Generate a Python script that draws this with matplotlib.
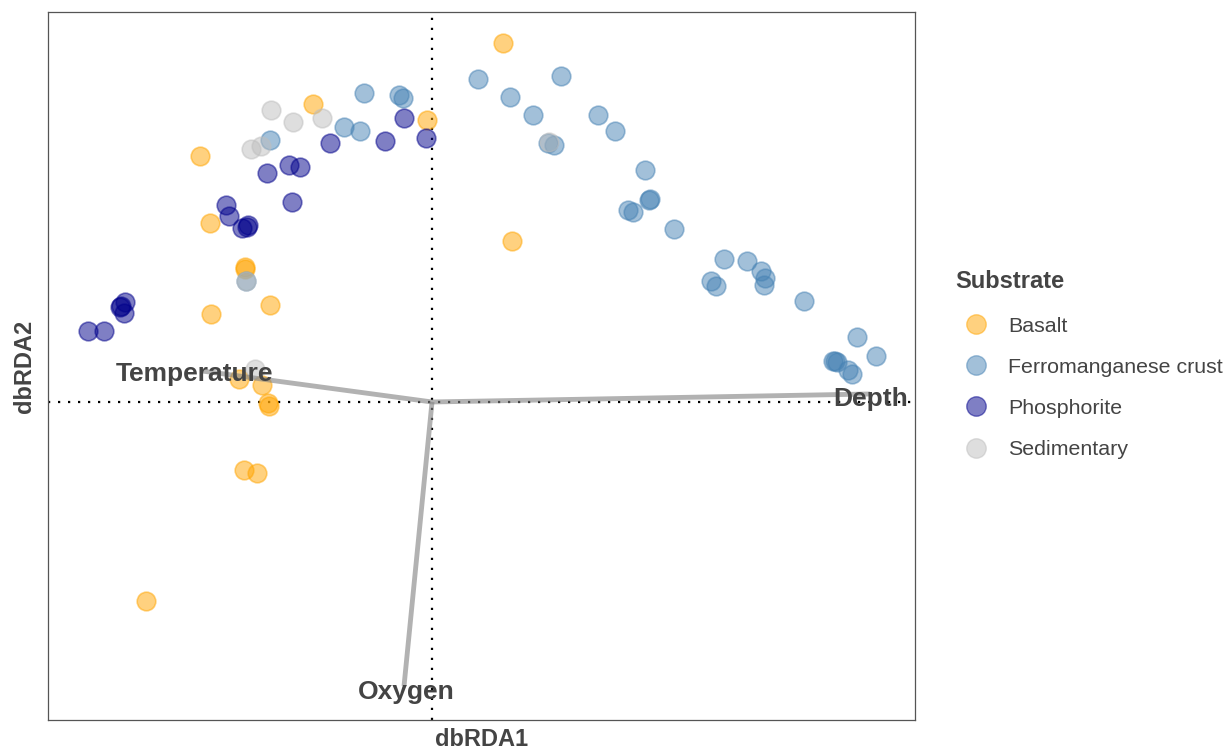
import matplotlib.pyplot as plt
from matplotlib.lines import Line2D

plt.rcParams['font.family'] = ['Liberation Sans', 'DejaVu Sans']

# site scores (dbRDA1, dbRDA2) per substrate
basalt_x = [0.71, -1.19, -0.05, -2.32, -2.22, 0.80, -1.87, -1.87, -1.62, -2.21,
            -1.93, -1.70, -1.64, -1.63, -1.88, -1.75, -2.86]
basalt_y = [3.59, 2.98, 2.82, 2.46, 1.79, 1.61, 1.35, 1.33, 0.97, 0.88,
            0.23, 0.17, -0.01, -0.04, -0.68, -0.71, -1.99]

ferro_x = [-0.68, -0.33, -0.29, -0.88, -0.72, -1.62, 0.46, 1.29, 0.78, 1.01,
           1.66, 1.83, 1.16, 1.22, 2.13, 2.17, 2.18, 1.96, 2.01, 2.42,
           2.92, 3.15, 3.29, 3.33, 3.32, 2.79, 2.84, 3.72, 4.25, 4.44,
           4.01, 4.05, 4.03, 4.16, 4.20, -1.86]
ferro_y = [3.09, 3.07, 3.04, 2.75, 2.71, 2.62, 3.23, 3.26, 3.05, 2.87,
           2.87, 2.71, 2.59, 2.57, 2.32, 2.02, 2.03, 1.92, 1.90, 1.73,
           1.43, 1.41, 1.31, 1.24, 1.17, 1.21, 1.16, 1.01, 0.65, 0.46,
           0.41, 0.40, 0.41, 0.32, 0.28, 1.21]

phos_x = [-0.28, -0.06, -0.47, -1.02, -1.43, -1.32, -1.65, -1.40, -2.06, -2.03,
          -1.90, -1.84, -1.85, -3.07, -3.11, -3.08, -3.12, -3.44, -3.28]
phos_y = [2.84, 2.64, 2.61, 2.59, 2.37, 2.35, 2.29, 2.00, 1.97, 1.86,
          1.74, 1.77, 1.75, 1.00, 0.96, 0.89, 0.95, 0.71, 0.71]

sed_x = [-1.61, -1.39, -1.10, -1.81, -1.71, 1.17, -1.77, -1.86]
sed_y = [2.92, 2.80, 2.84, 2.53, 2.56, 2.60, 0.33, 1.21]

# environmental vectors
env_names = ['Temperature', 'Depth', 'Oxygen']
env_x = [-2.30, 4.38, -0.28]
env_y = [0.31, 0.08, -2.84]
lab_x = [-2.38, 4.39, -0.26]
lab_y = [0.28, 0.03, -2.90]

groups = ['Basalt', 'Ferromanganese crust', 'Phosphorite', 'Sedimentary']
colors = ['#FFA500', '#4682B4', '#00008B', '#BEBEBE']
xs = [basalt_x, ferro_x, phos_x, sed_x]
ys = [basalt_y, ferro_y, phos_y, sed_y]

fig = plt.figure(figsize=(12.32, 7.55), dpi=100)
ax = fig.add_axes([0.0390, 0.0464, 0.7037, 0.9377])

ax.axhline(0, color='black', linestyle=(0, (1, 3.5)), linewidth=1.6, zorder=1)
ax.axvline(0, color='black', linestyle=(0, (1, 3.5)), linewidth=1.6, zorder=1)

for gx, gy, c in zip(xs, ys, colors):
    ax.scatter(gx, gy, s=180, color=c, alpha=0.5, edgecolors=c,
               linewidths=1.2, zorder=2)

for ex, ey in zip(env_x, env_y):
    ax.plot([0, ex], [0, ey], color='#808080', alpha=0.6, linewidth=3.5,
            solid_capstyle='butt', zorder=3)

for name, lx, ly in zip(env_names, lab_x, lab_y):
    ax.text(lx, ly, name, ha='center', va='center', fontsize=19,
            fontweight='bold', color='#444444', zorder=4)

ax.set_xlim(-3.84, 4.83)
ax.set_ylim(-3.18, 3.90)
ax.set_xticks([])
ax.set_yticks([])
for sp in ax.spines.values():
    sp.set_color('#555555')
    sp.set_linewidth(0.9)

ax.set_xlabel('dbRDA1', fontsize=17, fontweight='bold', color='#444444',
              labelpad=6)
ax.set_ylabel('dbRDA2', fontsize=17, fontweight='bold', color='#444444',
              labelpad=9)

handles = [Line2D([], [], marker='o', linestyle='', markersize=14,
                  markerfacecolor=c, markeredgecolor=c, alpha=0.5)
           for c in colors]
leg = fig.legend(handles, groups, title='Substrate', loc='upper left',
                 bbox_to_anchor=(0.775, 0.642), frameon=False,
                 fontsize=15.4, labelspacing=1.03, handletextpad=0.5,
                 borderaxespad=0, borderpad=0)
leg.get_title().set_fontweight('bold')
leg.get_title().set_fontsize(17)
leg.get_title().set_color('#444444')
leg._legend_box.align = 'left'
leg._legend_box.sep = 17
for t in leg.get_texts():
    t.set_color('#444444')

fig.savefig('out.png', dpi=100)
